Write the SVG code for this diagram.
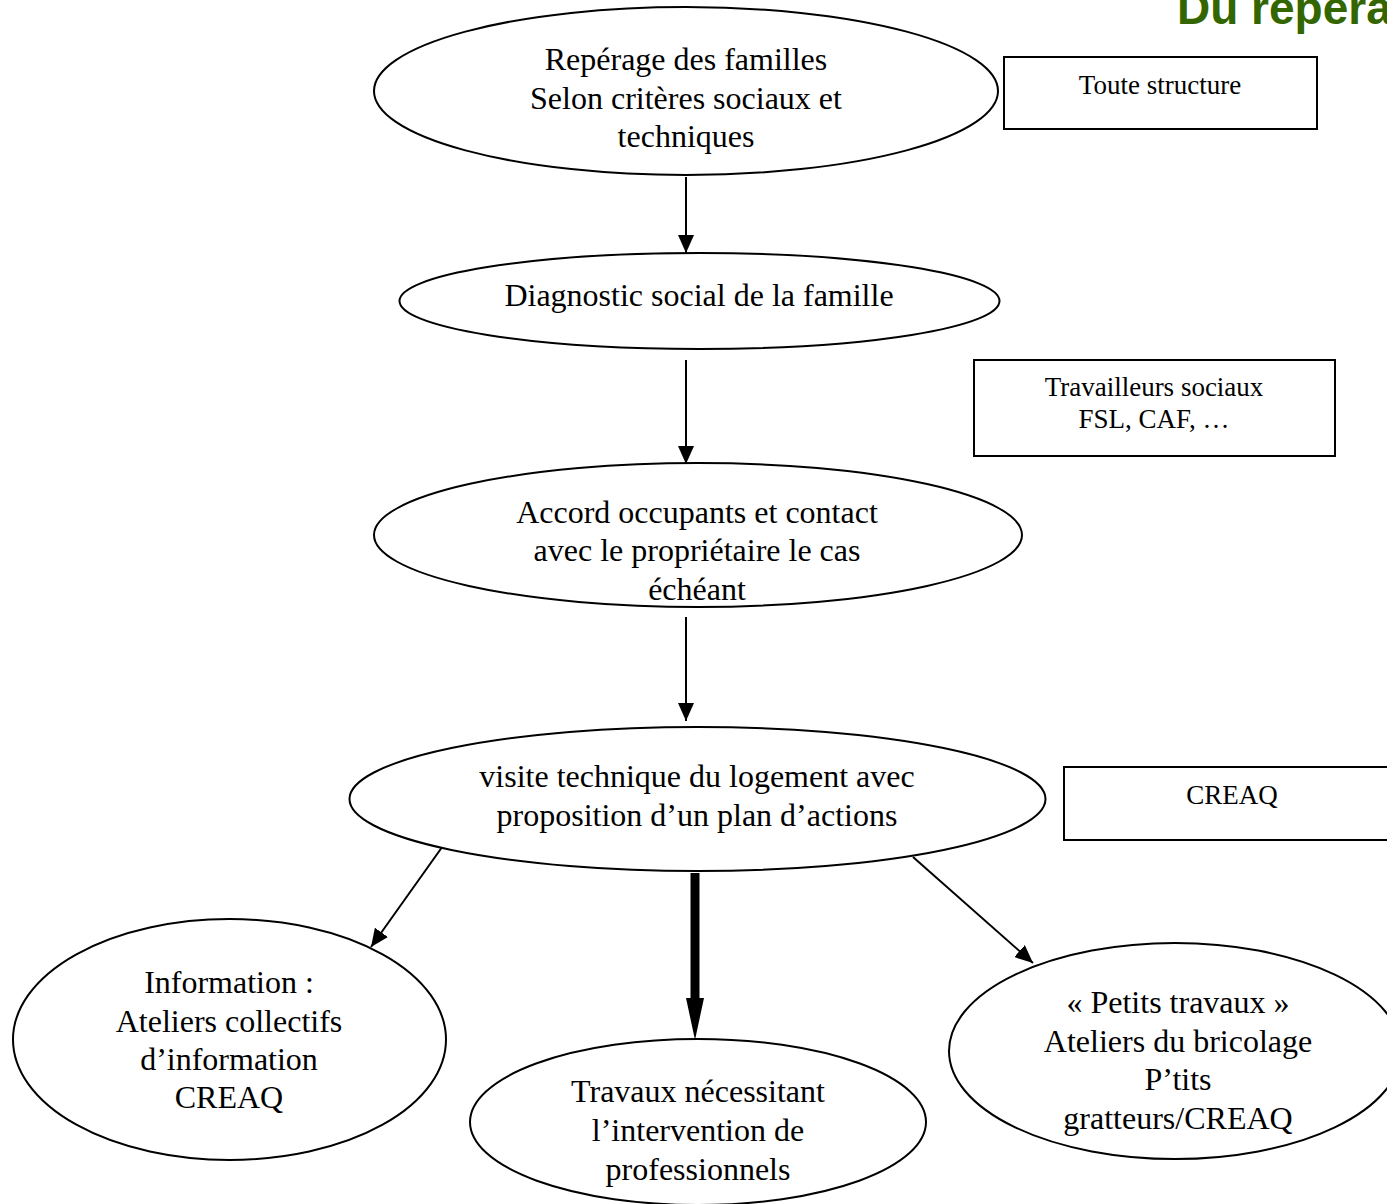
<svg xmlns="http://www.w3.org/2000/svg" width="1387" height="1204" viewBox="0 0 1387 1204">
<style>
.n{fill:#fff;stroke:#000;stroke-width:2}
.t{font-family:"Liberation Serif","Times New Roman",serif;font-size:32px;fill:#000;text-anchor:middle}
.b{font-family:"Liberation Serif","Times New Roman",serif;font-size:27px;fill:#000;text-anchor:middle}
.c{stroke:#000;stroke-width:2;fill:none}
</style>
<defs>
<marker id="ah2" viewBox="0 0 18 16" refX="18" refY="8" markerWidth="18" markerHeight="16" orient="auto" markerUnits="userSpaceOnUse">
<path d="M0,0 L18,8 L0,16 z" fill="#000"/>
</marker>
</defs>
<rect width="1387" height="1204" fill="#fff"/>
<text x="1177" y="24" font-family="Liberation Sans,Arial,sans-serif" font-size="46" font-weight="bold" fill="#336600">Du repérage</text>
<g id="connectors">
<line class="c" x1="686" y1="177" x2="686" y2="253" marker-end="url(#ah2)"/>
<line class="c" x1="686" y1="360" x2="686" y2="464" marker-end="url(#ah2)"/>
<line class="c" x1="686" y1="617" x2="686" y2="721" marker-end="url(#ah2)"/>
<line class="c" x1="445" y1="843" x2="371" y2="947" marker-end="url(#ah2)"/>
<line class="c" x1="913" y1="857" x2="1033" y2="963" marker-end="url(#ah2)"/>
<line x1="695" y1="873" x2="695" y2="1000" stroke="#000" stroke-width="9"/>
<path d="M686,998 L704,998 L695,1040 z" fill="#000"/>
</g>
<g id="n1"><ellipse class="n" cx="686" cy="91" rx="312" ry="84"/>
<text class="t" x="686" y="70">Repérage des familles</text>
<text class="t" x="686" y="109">Selon critères sociaux et</text>
<text class="t" x="686" y="147">techniques</text></g>
<g id="b1"><rect class="n" x="1004" y="57" width="313" height="72"/>
<text class="b" x="1160" y="94">Toute structure</text></g>
<g id="n2"><ellipse class="n" cx="699.5" cy="301" rx="300" ry="48"/>
<text class="t" x="699" y="306">Diagnostic social de la famille</text></g>
<g id="b2"><rect class="n" x="974" y="360" width="361" height="96"/>
<text class="b" x="1154" y="396">Travailleurs sociaux</text>
<text class="b" x="1154" y="428">FSL, CAF, …</text></g>
<g id="n3"><ellipse class="n" cx="698" cy="535" rx="324" ry="72"/>
<text class="t" x="697" y="523">Accord occupants et contact</text>
<text class="t" x="697" y="561">avec le propriétaire le cas</text>
<text class="t" x="697" y="600">échéant</text></g>
<g id="n4"><ellipse class="n" cx="697.5" cy="799" rx="348" ry="72"/>
<text class="t" x="697" y="787">visite technique du logement avec</text>
<text class="t" x="697" y="826">proposition d’un plan d’actions</text></g>
<g id="b3"><rect class="n" x="1064" y="767" width="340" height="73"/>
<text class="b" x="1232" y="804">CREAQ</text></g>
<g id="n5"><ellipse class="n" cx="229.5" cy="1039.5" rx="216.5" ry="120.5"/>
<text class="t" x="229" y="993">Information :</text>
<text class="t" x="229" y="1032">Ateliers collectifs</text>
<text class="t" x="229" y="1070">d’information</text>
<text class="t" x="229" y="1108">CREAQ</text></g>
<g id="n6"><ellipse class="n" cx="698" cy="1122" rx="228" ry="83"/>
<text class="t" x="698" y="1102">Travaux nécessitant</text>
<text class="t" x="698" y="1141">l’intervention de</text>
<text class="t" x="698" y="1180">professionnels</text></g>
<g id="n7"><ellipse class="n" cx="1175" cy="1051" rx="226" ry="108"/>
<text class="t" x="1178" y="1013">« Petits travaux »</text>
<text class="t" x="1178" y="1052">Ateliers du bricolage</text>
<text class="t" x="1178" y="1090">P’tits</text>
<text class="t" x="1178" y="1129">gratteurs/CREAQ</text></g>
</svg>
